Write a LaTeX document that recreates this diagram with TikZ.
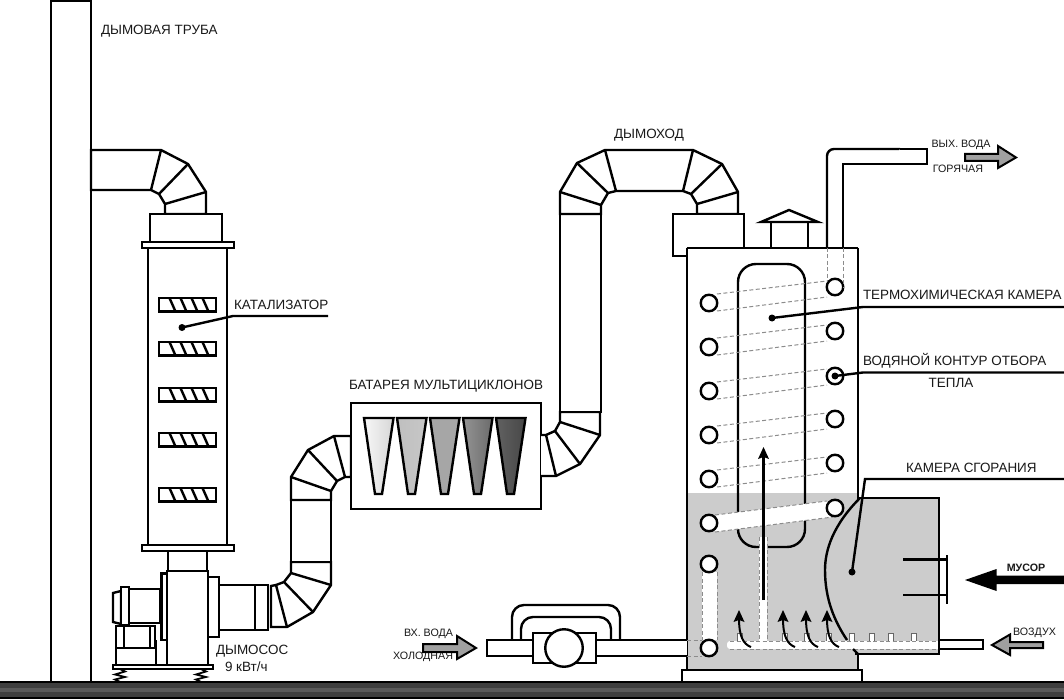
\documentclass[tikz,border=0pt]{standalone}
\usepackage{fontspec}
\setmainfont{Liberation Sans}
\definecolor{zone}{HTML}{CCCCCC}
\definecolor{dashc}{HTML}{8C8C8C}
\definecolor{arrowg}{HTML}{A0A0A0}
\definecolor{groundc}{HTML}{3E3E3E}
\tikzset{
  ln/.style={line width=2.4pt,line join=miter,draw=black},
  dsh/.style={line width=1pt,draw=dashc,dash pattern=on 4pt off 2.5pt},
  lbl/.style={inner sep=0pt,outer sep=0pt,font=\fontsize{13.45}{15}\selectfont,text=black!90},
  lblsm/.style={inner sep=0pt,outer sep=0pt,font=\fontsize{10.7}{12}\selectfont,text=black!90},
  ringc/.style={circle,draw=black,line width=2.4pt,fill=white,minimum size=16.5pt,inner sep=0pt},
  dotc/.style={circle,fill=black,minimum size=7pt,inner sep=0pt},
  arrg/.style={fill=arrowg,draw=black,line width=2pt,line join=miter},
}
\begin{document}
\begin{tikzpicture}[x=1pt,y=-1pt]
\useasboundingbox (0,0) rectangle (1064,700);
\fill[white] (0,0) rectangle (1064,700);

% ground
\fill[groundc] (0,682) rectangle (1064,698);
\fill[black!65] (0,688) rectangle (1064,692);
\draw[ln] (0,682) -- (1064,682);
\draw[ln] (0,698) -- (1064,698);

% chimney
\draw[ln] (51,1) rectangle (91,682);
\node[lbl,anchor=west] (tChimney) at (101,31) {ДЫМОВАЯ ТРУБА};

% top-left elbow
\draw[ln,fill=white] (91,150) -- (161,150) -- (188,164) -- (206,192) -- (206,214) -- (165,214) -- (165,204) -- (159,194) -- (151,190) -- (91,190) -- cycle;
\draw[ln] (161,150) -- (151,190) (188,164) -- (159,194) (206,192) -- (165,204);

% column
\draw[ln,fill=white] (150,214) rectangle (222,242);
\draw[ln,fill=white] (142,242) rectangle (234,248);
\draw[ln,fill=white] (148,248) rectangle (227,545);
\draw[ln,fill=white] (142,545) rectangle (234,551);
\foreach \yy in {298,342,388,433,488}{
  \draw[ln,fill=white] (159,\yy) rectangle (216,\yy+13.5);
  \foreach \xx in {169.5,180.5,191.5,202.5}{
    \draw[ln] (\xx,\yy) -- (\xx+6,\yy+13.5);
  }
}
\node[lbl,anchor=west] (tCat) at (234,305) {КАТАЛИЗАТОР};
\node[dotc] (dCat) at (182,327.5) {};
\coordinate (kCat) at (233,316);
\coordinate (eCat) at (328,316);
\draw[ln] (dCat.center) -- (kCat) -- (eCat);

% fan
\draw[ln,fill=white] (168,551) rectangle (207,571);
\draw[ln,fill=white] (167,571) rectangle (208,665);
\draw[ln,fill=white] (161.5,573.5) rectangle (167,640);
\draw[ln,fill=white] (208,577) rectangle (219,637);
\draw[ln,fill=white] (219,585) rectangle (255,630);
\draw[ln,fill=white] (255,585) rectangle (268,630);
% motor
\draw[ln,fill=white] (121,591) -- (113,593) -- (113,622) -- (121,624) -- cycle;
\draw[ln,fill=white] (129,589) rectangle (160,623);
\draw[ln,fill=white] (121,587) rectangle (129,625);
\draw[ln,fill=white] (116,626) rectangle (155,648);
\draw[ln] (124,626) -- (124,648) (150,626) -- (150,648);
\draw[ln,fill=white] (116,648) rectangle (156,665);
\draw[ln] (156,640) -- (156,665);
\draw[ln,fill=white] (113,665) rectangle (213,669);
% springs
\foreach \xx in {120,201}{
  \draw[line width=1.8pt] (\xx,669) -- (\xx+5,671.5) -- (\xx-5,674.5) -- (\xx+5,677) -- (\xx-5,679.5) -- (\xx,682);
}
\node[lbl,anchor=west] (tFan) at (216,651) {ДЫМОСОС};
\node[lbl,anchor=west] (tFanP) at (225,667) {9 кВт/ч};

% lower-left elbow
\draw[ln,fill=white] (271,586) -- (276,585) -- (284,582) -- (291,573) -- (291,562) -- (331,562) -- (331,585) -- (313,612) -- (287,627) -- (271,627) -- cycle;
\draw[ln] (276,585) -- (287,627) (284,582) -- (313,612) (291,573) -- (331,585);
\draw[ln,fill=white] (291,500) rectangle (331,562);
\draw[ln,fill=white] (291,500) -- (291,477) -- (308,450) -- (334,436) -- (351,436) -- (351,477) -- (345,477) -- (337,481) -- (331,491) -- (331,500) -- cycle;
\draw[ln] (291,477) -- (331,491) (308,450) -- (337,481) (334,436) -- (345,477);

% multicyclone box
\draw[ln,fill=white] (351,403) rectangle (541,509);
\foreach \xa/\xb/\ca/\cb in {364/375/black!3/black!16,397/408/black!25/black!22,430/441/black!35/black!35,463/474/black!42/black!58,496/507/black!62/black!72}{
  \shade[left color=\ca,right color=\cb] (\xa,418) -- (\xa+29.5,418) -- (\xb+7,494) -- (\xb,494) -- cycle;
  \draw[ln] (\xa,418) -- (\xa+29.5,418) -- (\xb+7,494) -- (\xb,494) -- cycle;
}
\node[lbl,anchor=west] (tBat) at (349,386) {БАТАРЕЯ МУЛЬТИЦИКЛОНОВ};

% right elbow up and flue
\draw[ln,fill=white] (541,435) -- (546,435) -- (555,431) -- (560,422) -- (560,412) -- (600,412) -- (600,435) -- (580,464) -- (556,476) -- (541,476);
\draw[ln] (546,435) -- (556,476) (555,431) -- (580,464) (560,422) -- (600,435);
\draw[ln,fill=white] (560,214) rectangle (601,412);
\draw[ln,fill=white] (560,214) -- (560,192) -- (577,163) -- (605,150) -- (693,150) -- (722,164) -- (738,192) -- (738,214) -- (697,214) -- (697,204) -- (691,194) -- (683,191) -- (616,191) -- (608,193) -- (601,205) -- (601,214) -- cycle;
\draw[ln] (560,192) -- (601,205) (577,163) -- (608,193) (605,150) -- (616,191) (693,150) -- (683,191) (722,164) -- (691,194) (738,192) -- (697,204);
\node[lbl,anchor=center] (tFlue) at (649,135) {ДЫМОХОД};
\draw[ln,fill=white] (673,214) rectangle (744,256);

% hot water pipe
\draw[ln,fill=white,rounded corners=7pt] (827,248) -- (827,149) -- (900,149);
\draw[ln,fill=white] (900,149) -- (927,149) -- (927,164) -- (843,164) -- (843,248);
\node[lblsm,anchor=center] (tOut) at (961,145) {ВЫХ. ВОДА};
\node[lblsm,anchor=center] (tHot) at (958,169) {ГОРЯЧАЯ};
\draw[arrg] (965,154) -- (998,154) -- (998,146) -- (1016,157.5) -- (998,168) -- (998,161) -- (965,161) -- cycle;

% cap
\draw[ln,fill=white] (771,222) rectangle (808,248);
\draw[ln,fill=white] (761,222) -- (789,210) -- (818,222) -- cycle;

% furnace
\fill[white] (687,248) rectangle (858,493);
\fill[zone] (687,493) -- (858,493) -- (858,498) -- (939,498) -- (939,654) -- (858,654) -- (858,670) -- (687,670) -- cycle;

% inner chamber
\draw[ln,rounded corners=18pt] (738,300) -- (738,264) -- (805,264) -- (805,547) -- (738,547) -- cycle;

% water pipes (upper, dashed)
\foreach \yl/\yr in {303/287,347/331,391/375,435/419,479/463}{
  \draw[dsh] (717,\yl-9) -- (827,\yr-6);
  \draw[dsh] (717,\yl+8) -- (827,\yr+10);
}
% lower white band
\fill[white] (715,515) -- (827,501) -- (833,517) -- (715,532) -- cycle;
\draw[dsh] (715,515) -- (827,501);
\draw[dsh] (715,532) -- (833,517);

% left vertical water pipe
\fill[white] (702,572) rectangle (717,640);
\draw[dsh] (702,572) -- (702,640) (717,572) -- (717,640);

% burner squares
\foreach \xx in {740,785,807,829,852,872,891,914}{
  \draw[line width=1pt,draw=black!60,fill=white] (\xx-2.8,633) rectangle (\xx+2.8,641);
}

% centre air pipe
\fill[white] (759,537) rectangle (767,648);
\draw[dsh] (759,537) -- (759,641) (767,537) -- (767,641);

% air pipe
\fill[white,rounded corners=3pt] (727,641) rectangle (941,649);
\draw[dsh] (730,641) -- (939,641);
\draw[dsh] (730,649) -- (939,649);

% walls of the lower part
\draw[ln] (858,248) -- (858,498) -- (939,498) -- (939,654) -- (855,654);
\draw[ln] (858,654) -- (858,670);
\draw[ln] (686.7,248) -- (858,248);
\draw[ln] (686.7,248) -- (686.7,670) -- (858,670);
\draw[ln,fill=white] (682,670) rectangle (862,682);

% chamber curve
\draw[ln] (860,498) .. controls (833,525) and (825,550) .. (825,570) .. controls (825,600) and (835,622) .. (847,640);
\draw[ln] (853,649) -- (858,654);

% door
\draw[ln] (903,559.5) -- (947,559.5) (903,595) -- (947,595);
\draw[ln] (947,555) -- (947,604);

% rising arrows
\foreach \xx in {739,783,806,827}{
  \draw[line width=2pt] (\xx+12,647) .. controls (\xx+4,644) and (\xx,636) .. (\xx,618);
  \fill[black] (\xx,610) -- (\xx+5.5,622) -- (\xx,620) -- (\xx-5.5,622) -- cycle;
}
% centre rising arrow
\draw[ln] (763.5,600) -- (763.5,455);
\fill[black] (763.5,447) -- (769,459) -- (763.5,457) -- (758,459) -- cycle;

% outside air pipe
\draw[ln,fill=white] (939,640) rectangle (983,649);

% inlet pipe and pump
\draw[ln,fill=white] (686.7,640) -- (487,640) -- (487,656) -- (686.7,656);
\draw[dsh] (687,640) -- (702,640) (687,656) -- (702,656);
\draw[ln,rounded corners=12pt] (512,640) -- (512,605) -- (620,605) -- (620,640);
\draw[ln,rounded corners=12pt] (521,640) -- (521,617) -- (611,617) -- (611,640);
\draw[ln,fill=white] (533,633) rectangle (596,663);
\node[circle,draw=black,line width=2.4pt,fill=white,minimum size=37.5pt,inner sep=0pt] (pump) at (564,648) {};
\node[lblsm,anchor=east] (tIn) at (453,634) {ВХ. ВОДА};
\node[lblsm,anchor=east] (tCold) at (453,657) {ХОЛОДНАЯ};
\draw[arrg] (423,644) -- (457,644) -- (457,636) -- (476,648) -- (457,659) -- (457,652) -- (423,652) -- cycle;

% water circles
\foreach \nm/\xx/\yy in {la/709/303,lb/709/347,lc/709/391,ld/709/435,le/709/479,lf/709/523,lg/709/564,lh/709/648,ra/835/287,rb/835/331,rc/835/376,rd/835/419,re/835/463,rf/835/508}{
  \node[ringc] (\nm) at (\xx,\yy) {};
}
\draw[dsh] (827,248) -- (827,281) (843,248) -- (843,288);

% leaders
\node[dotc] (dTerm) at (772,318) {};
\coordinate (kTerm) at (863,307);
\coordinate (eTerm) at (1064,307);
\draw[ln] (dTerm.center) -- (kTerm) -- (eTerm);
\node[lbl,anchor=west] (tTerm) at (863,295) {ТЕРМОХИМИЧЕСКАЯ КАМЕРА};
\node[dotc] (dWater) at (rc.center) {};
\coordinate (kWater) at (863,372.5);
\coordinate (eWater) at (1064,372.5);
\draw[ln] (dWater.center) -- (kWater) -- (eWater);
\node[lbl,anchor=west] (tWater) at (863,361) {ВОДЯНОЙ КОНТУР ОТБОРА};
\node[lbl,anchor=center] (tHeat) at (951,383) {ТЕПЛА};
\node[dotc] (dBurn) at (852,572) {};
\coordinate (kBurn) at (865,479);
\coordinate (eBurn) at (1064,479);
\draw[ln] (dBurn.center) -- (kBurn) -- (eBurn);
\node[lbl,anchor=west] (tBurn) at (906,468) {КАМЕРА СГОРАНИЯ};

% waste and air arrows
\fill[black] (965,580) -- (996.5,569) -- (996.5,575.5) -- (1064,575.5) -- (1064,584) -- (996.5,584) -- (996.5,591) -- cycle;
\node[lblsm,anchor=center,font=\fontsize{10.7}{12}\selectfont\bfseries] (tWaste) at (1026,568) {МУСОР};
\draw[arrg] (1043,642) -- (1010,642) -- (1010,634.5) -- (992,645) -- (1010,655) -- (1010,648) -- (1043,648) -- cycle;
\node[lblsm,anchor=center] (tAir) at (1034.5,633) {ВОЗДУХ};
\end{tikzpicture}
\end{document}
